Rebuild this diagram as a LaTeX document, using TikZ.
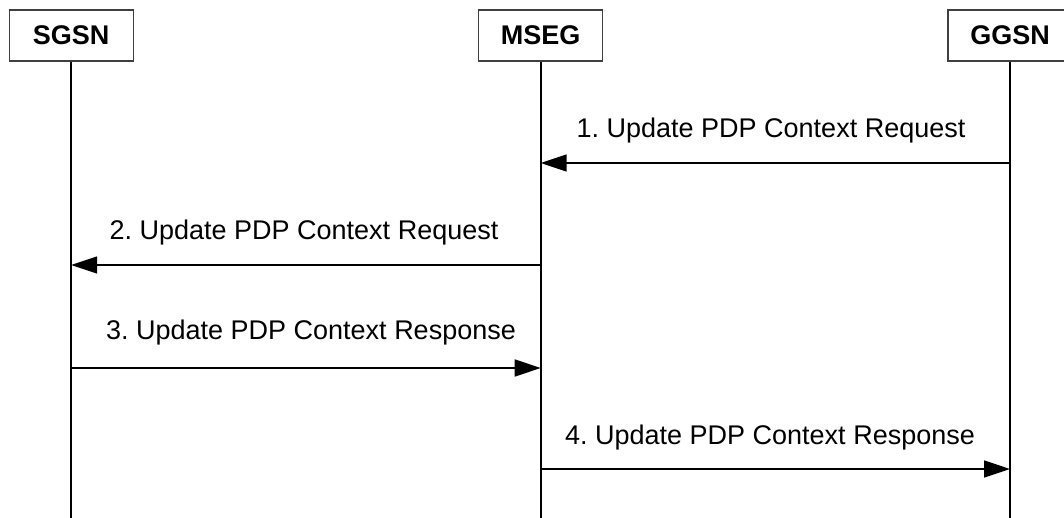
\documentclass[tikz,border=0pt]{standalone}
\usepackage{fontspec}
\setmainfont{Liberation Sans}
\usetikzlibrary{arrows.meta}
\frenchspacing
\tikzset{
  entity/.style={draw=black!75, line width=1.2pt, fill=white, minimum width=124pt,
    minimum height=51pt, inner sep=0pt, font=\fontsize{27}{32}\selectfont\bfseries},
  lifeline/.style={line width=1.6pt},
  msg/.style={line width=1.6pt, -{Triangle[length=26pt,width=17pt]}},
  msglabel/.style={anchor=base, inner sep=0pt, font=\fontsize{27}{32}\selectfont}
}
\begin{document}
\begin{tikzpicture}[x=1pt,y=-1pt]
\useasboundingbox (0,0) rectangle (1064,518);
% participants
\node[entity] (sgsn) at (71.2,35.5) {SGSN};
\node[entity] (mseg) at (540.7,35.5) {MSEG};
\node[entity] (ggsn) at (1010,35.5) {GGSN};
% lifeline ends
\coordinate (sgsnEnd) at (71.2,518);
\coordinate (msegEnd) at (540.7,518);
\coordinate (ggsnEnd) at (1010,518);
\draw[lifeline] (sgsn.south) -- (sgsnEnd);
\draw[lifeline] (mseg.south) -- (msegEnd);
\draw[lifeline] (ggsn.south) -- (ggsnEnd);
% message anchor points on the lifelines
\coordinate (g1) at (1010,163);
\coordinate (m1) at (540.7,163);
\coordinate (m2) at (540.7,265);
\coordinate (s2) at (71.2,265);
\coordinate (s3) at (71.2,368);
\coordinate (m3) at (540.7,368);
\coordinate (m4) at (540.7,469);
\coordinate (g4) at (1010,469);
% messages
\draw[msg] (g1) -- (m1);
\draw[msg] (m2) -- (s2);
\draw[msg] (s3) -- (m3);
\draw[msg] (m4) -- (g4);
% message labels
\node[msglabel] (l1) at (771,138) {1. Update PDP Context Request};
\node[msglabel] (l2) at (304,240) {2. Update PDP Context Request};
\node[msglabel] (l3) at (311,339) {3. Update PDP Context Response};
\node[msglabel] (l4) at (770,444) {4. Update PDP Context Response};
\end{tikzpicture}
\end{document}
